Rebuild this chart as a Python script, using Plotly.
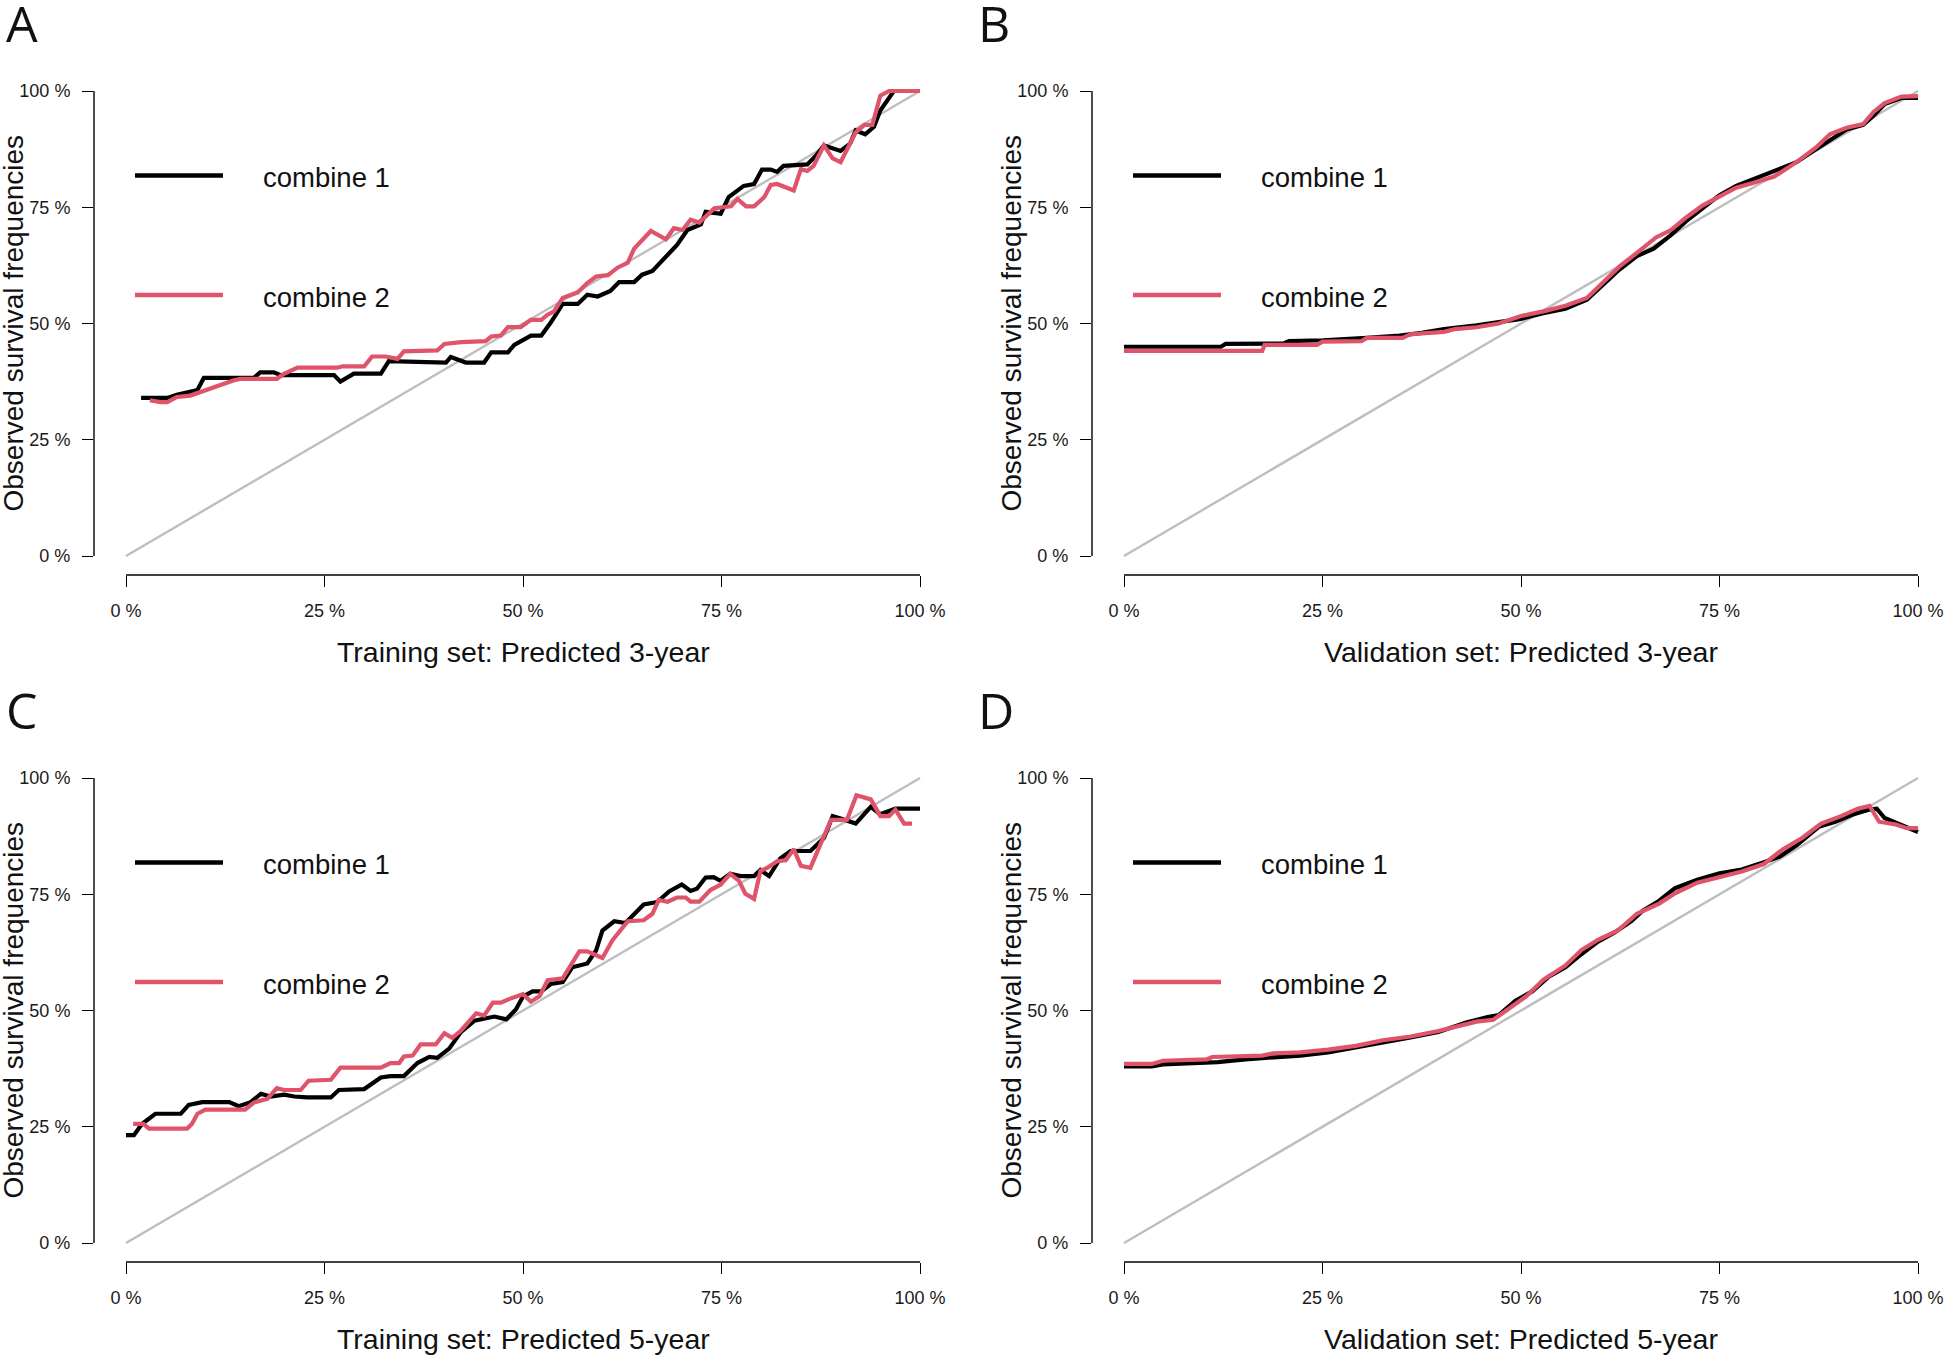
import plotly.graph_objects as go

# ---------------- data ----------------
TICK_VALS = [0, 0.25, 0.5, 0.75, 1.0]
TICK_TEXT = ["0 %", "25 %", "50 %", "75 %", "100 %"]
SERIES_NAMES = ["combine 1", "combine 2"]
PANEL_LETTERS = ["A", "B", "C", "D"]
X_TITLES = ["Training set: Predicted 3-year", "Validation set: Predicted 3-year",
            "Training set: Predicted 5-year", "Validation set: Predicted 5-year"]
Y_TITLE = "Observed survival frequencies"

A_combine1 = [(0.019, 0.340), (0.052, 0.340), (0.064, 0.347), (0.077, 0.353), (0.090, 0.357), (0.098, 0.383),
              (0.161, 0.383), (0.169, 0.395), (0.186, 0.395), (0.195, 0.389), (0.262, 0.389), (0.270, 0.375),
              (0.287, 0.392), (0.321, 0.392), (0.331, 0.419), (0.403, 0.416), (0.409, 0.428), (0.428, 0.416),
              (0.451, 0.416), (0.460, 0.438), (0.481, 0.438), (0.489, 0.454), (0.510, 0.474), (0.523, 0.474),
              (0.535, 0.502), (0.550, 0.542), (0.569, 0.542), (0.581, 0.562), (0.594, 0.558), (0.610, 0.570),
              (0.621, 0.589), (0.640, 0.589), (0.650, 0.605), (0.663, 0.613), (0.677, 0.637), (0.694, 0.669),
              (0.707, 0.701), (0.724, 0.713), (0.730, 0.740), (0.749, 0.736), (0.759, 0.772), (0.778, 0.796),
              (0.791, 0.800), (0.801, 0.831), (0.812, 0.831), (0.820, 0.826), (0.828, 0.839), (0.858, 0.842),
              (0.868, 0.859), (0.879, 0.883), (0.900, 0.871), (0.912, 0.887), (0.919, 0.915), (0.931, 0.907),
              (0.942, 0.923), (0.950, 0.958), (0.967, 1.000), (1.000, 1.000)]
A_combine2 = [(0.030, 0.335), (0.043, 0.331), (0.052, 0.331), (0.064, 0.342), (0.081, 0.345), (0.094, 0.353),
              (0.115, 0.365), (0.136, 0.378), (0.144, 0.381), (0.190, 0.381), (0.199, 0.392), (0.216, 0.405),
              (0.266, 0.405), (0.273, 0.408), (0.300, 0.408), (0.310, 0.429), (0.327, 0.429), (0.342, 0.424),
              (0.350, 0.440), (0.392, 0.442), (0.401, 0.456), (0.422, 0.460), (0.453, 0.462), (0.460, 0.472),
              (0.472, 0.474), (0.481, 0.492), (0.497, 0.492), (0.510, 0.508), (0.523, 0.508), (0.531, 0.519),
              (0.539, 0.526), (0.550, 0.555), (0.569, 0.567), (0.581, 0.587), (0.592, 0.601), (0.607, 0.604),
              (0.619, 0.620), (0.632, 0.631), (0.640, 0.661), (0.661, 0.699), (0.680, 0.681), (0.690, 0.705),
              (0.701, 0.701), (0.711, 0.723), (0.722, 0.717), (0.741, 0.748), (0.762, 0.752), (0.770, 0.768),
              (0.781, 0.752), (0.791, 0.752), (0.804, 0.772), (0.812, 0.798), (0.820, 0.800), (0.841, 0.786),
              (0.850, 0.832), (0.858, 0.828), (0.866, 0.839), (0.879, 0.883), (0.890, 0.855), (0.900, 0.847),
              (0.919, 0.911), (0.930, 0.927), (0.940, 0.927), (0.950, 0.990), (0.961, 1.000), (1.000, 1.000)]

B_combine1 = [(0.000, 0.450), (0.122, 0.450), (0.128, 0.456), (0.201, 0.457), (0.208, 0.462), (0.250, 0.464),
              (0.306, 0.469), (0.347, 0.474), (0.375, 0.480), (0.403, 0.488), (0.444, 0.496), (0.472, 0.502),
              (0.500, 0.510), (0.528, 0.522), (0.556, 0.532), (0.583, 0.551), (0.601, 0.581), (0.622, 0.613),
              (0.646, 0.645), (0.667, 0.661), (0.688, 0.689), (0.708, 0.720), (0.729, 0.748), (0.750, 0.776),
              (0.771, 0.796), (0.792, 0.810), (0.819, 0.828), (0.847, 0.847), (0.868, 0.871), (0.889, 0.895),
              (0.910, 0.917), (0.931, 0.927), (0.944, 0.947), (0.958, 0.972), (0.979, 0.985), (1.000, 0.985)]
B_combine2 = [(0.000, 0.441), (0.174, 0.441), (0.177, 0.454), (0.243, 0.454), (0.250, 0.461), (0.299, 0.462),
              (0.306, 0.469), (0.351, 0.469), (0.361, 0.477), (0.403, 0.482), (0.417, 0.488), (0.444, 0.492),
              (0.472, 0.500), (0.500, 0.516), (0.528, 0.526), (0.556, 0.538), (0.583, 0.555), (0.604, 0.589),
              (0.625, 0.624), (0.646, 0.652), (0.670, 0.685), (0.688, 0.700), (0.708, 0.728), (0.729, 0.754),
              (0.750, 0.773), (0.771, 0.792), (0.792, 0.802), (0.819, 0.816), (0.847, 0.847), (0.872, 0.879),
              (0.889, 0.907), (0.910, 0.921), (0.931, 0.929), (0.944, 0.955), (0.958, 0.974), (0.979, 0.988),
              (1.000, 0.989)]

C_combine1 = [(0.000, 0.232), (0.010, 0.232), (0.020, 0.256), (0.037, 0.278), (0.069, 0.278), (0.079, 0.297),
              (0.096, 0.303), (0.130, 0.303), (0.142, 0.294), (0.157, 0.303), (0.170, 0.321), (0.182, 0.315),
              (0.199, 0.319), (0.212, 0.315), (0.228, 0.313), (0.258, 0.313), (0.268, 0.329), (0.300, 0.331),
              (0.321, 0.356), (0.333, 0.359), (0.350, 0.359), (0.367, 0.387), (0.382, 0.400), (0.392, 0.398),
              (0.407, 0.418), (0.422, 0.454), (0.439, 0.478), (0.464, 0.487), (0.479, 0.481), (0.491, 0.502),
              (0.500, 0.530), (0.512, 0.541), (0.523, 0.541), (0.535, 0.557), (0.550, 0.561), (0.562, 0.593),
              (0.581, 0.601), (0.592, 0.629), (0.600, 0.672), (0.615, 0.692), (0.629, 0.688), (0.644, 0.716),
              (0.652, 0.728), (0.669, 0.733), (0.684, 0.756), (0.700, 0.771), (0.711, 0.757), (0.719, 0.762),
              (0.730, 0.786), (0.740, 0.787), (0.749, 0.779), (0.761, 0.794), (0.774, 0.789), (0.791, 0.789),
              (0.799, 0.802), (0.810, 0.789), (0.824, 0.827), (0.837, 0.843), (0.862, 0.843), (0.879, 0.871),
              (0.890, 0.918), (0.900, 0.913), (0.919, 0.902), (0.938, 0.938), (0.950, 0.922), (0.969, 0.934),
              (1.000, 0.934)]
C_combine2 = [(0.009, 0.256), (0.022, 0.256), (0.029, 0.246), (0.077, 0.246), (0.083, 0.256), (0.090, 0.278),
              (0.100, 0.287), (0.150, 0.287), (0.161, 0.302), (0.178, 0.310), (0.190, 0.333), (0.199, 0.329),
              (0.220, 0.329), (0.230, 0.349), (0.258, 0.351), (0.270, 0.377), (0.321, 0.377), (0.333, 0.387),
              (0.344, 0.387), (0.350, 0.401), (0.361, 0.403), (0.371, 0.427), (0.390, 0.427), (0.401, 0.451),
              (0.411, 0.441), (0.422, 0.457), (0.441, 0.494), (0.451, 0.489), (0.462, 0.517), (0.472, 0.517),
              (0.483, 0.525), (0.500, 0.535), (0.510, 0.519), (0.521, 0.531), (0.531, 0.565), (0.550, 0.569),
              (0.571, 0.627), (0.581, 0.627), (0.600, 0.613), (0.613, 0.652), (0.632, 0.692), (0.652, 0.694),
              (0.663, 0.708), (0.671, 0.738), (0.682, 0.734), (0.694, 0.743), (0.705, 0.743), (0.711, 0.734),
              (0.722, 0.734), (0.736, 0.759), (0.749, 0.771), (0.761, 0.794), (0.772, 0.779), (0.780, 0.751),
              (0.791, 0.740), (0.799, 0.800), (0.808, 0.807), (0.820, 0.821), (0.831, 0.823), (0.841, 0.847),
              (0.850, 0.811), (0.862, 0.807), (0.877, 0.867), (0.888, 0.910), (0.908, 0.910), (0.920, 0.963),
              (0.938, 0.954), (0.950, 0.918), (0.961, 0.918), (0.969, 0.932), (0.980, 0.902), (0.990, 0.902)]

D_combine1 = [(0.000, 0.380), (0.035, 0.380), (0.049, 0.384), (0.118, 0.389), (0.153, 0.395), (0.222, 0.403),
              (0.257, 0.410), (0.292, 0.420), (0.326, 0.432), (0.361, 0.442), (0.396, 0.454), (0.431, 0.474),
              (0.458, 0.486), (0.472, 0.490), (0.493, 0.521), (0.514, 0.541), (0.535, 0.573), (0.556, 0.593),
              (0.576, 0.621), (0.597, 0.648), (0.618, 0.668), (0.639, 0.692), (0.653, 0.714), (0.674, 0.736),
              (0.694, 0.763), (0.722, 0.781), (0.750, 0.795), (0.778, 0.803), (0.806, 0.819), (0.826, 0.831),
              (0.847, 0.855), (0.875, 0.895), (0.896, 0.906), (0.917, 0.921), (0.938, 0.932), (0.948, 0.934),
              (0.958, 0.914), (0.979, 0.898), (1.000, 0.884)]
D_combine2 = [(0.000, 0.385), (0.035, 0.385), (0.049, 0.392), (0.104, 0.395), (0.111, 0.400), (0.174, 0.403),
              (0.188, 0.408), (0.222, 0.410), (0.257, 0.416), (0.292, 0.424), (0.326, 0.436), (0.361, 0.444),
              (0.396, 0.456), (0.424, 0.468), (0.444, 0.476), (0.465, 0.480), (0.486, 0.505), (0.507, 0.531),
              (0.528, 0.566), (0.556, 0.597), (0.576, 0.630), (0.597, 0.652), (0.622, 0.672), (0.646, 0.708),
              (0.674, 0.730), (0.694, 0.752), (0.722, 0.775), (0.750, 0.787), (0.778, 0.799), (0.806, 0.815),
              (0.830, 0.847), (0.854, 0.871), (0.878, 0.902), (0.903, 0.918), (0.924, 0.934), (0.939, 0.940),
              (0.951, 0.906), (0.972, 0.900), (0.986, 0.892), (1.000, 0.892)]

SERIES = [(A_combine1, A_combine2), (B_combine1, B_combine2),
          (C_combine1, C_combine2), (D_combine1, D_combine2)]

# ---------------- layout / style ----------------
W, H = 1944, 1358
COLORS = ["#000000", "#DF536B"]
DIAG_COLOR = "#BEBEBE"
FONT = "Liberation Sans, Arial, sans-serif"
LETTER_FONT = "Open Sans, Noto Sans, sans-serif"
CURVE_W = 4.2

COL = [dict(origin=0, x0=126, x1=920, left=94, right=952),
       dict(origin=972, x0=1124, x1=1918, left=1092, right=1944)]
ROW = [dict(y0=556, y1=91, top=72, bottom=575),
       dict(y0=1243, y1=778, top=759, bottom=1262)]

fig = go.Figure()
shapes, annotations = [], []

for i in range(4):
    c, r = COL[i % 2], ROW[i // 2]
    sfx = "" if i == 0 else str(i + 1)
    xa, ya = "x" + sfx, "y" + sfx

    xr = [(c["left"] - c["x0"]) / (c["x1"] - c["x0"]), (c["right"] - c["x0"]) / (c["x1"] - c["x0"])]
    yr = [(r["bottom"] - r["y0"]) / (r["y1"] - r["y0"]), (r["top"] - r["y0"]) / (r["y1"] - r["y0"])]

    axis_common = dict(showgrid=False, zeroline=False, showline=False, ticks="outside",
                       ticklen=11, tickwidth=1.4, tickcolor="#000",
                       tickvals=TICK_VALS, ticktext=TICK_TEXT,
                       tickfont=dict(family=FONT, size=18, color="#1a1a1a"))
    fig.layout["xaxis" + sfx] = dict(axis_common, domain=[c["left"] / W, c["right"] / W],
                                     range=xr, anchor=ya, ticklabelstandoff=8)
    fig.layout["yaxis" + sfx] = dict(axis_common, domain=[1 - r["bottom"] / H, 1 - r["top"] / H],
                                     range=yr, anchor=xa, ticklabelstandoff=8)

    # reference diagonal
    fig.add_trace(go.Scatter(x=[0, 1], y=[0, 1], mode="lines", xaxis=xa, yaxis=ya,
                             line=dict(color=DIAG_COLOR, width=2.4), showlegend=False, hoverinfo="skip"))
    for k, pts in enumerate(SERIES[i]):
        fig.add_trace(go.Scatter(x=[p[0] for p in pts], y=[p[1] for p in pts], mode="lines",
                                 xaxis=xa, yaxis=ya, name=SERIES_NAMES[k], showlegend=False,
                                 line=dict(color=COLORS[k], width=CURVE_W)))

    # R style detached axis lines (from first to last tick)
    shapes.append(dict(type="line", xref="paper", yref="paper",
                       x0=c["x0"] / W, x1=c["x1"] / W,
                       y0=1 - r["bottom"] / H, y1=1 - r["bottom"] / H,
                       line=dict(color="#000", width=1.4)))
    shapes.append(dict(type="line", xref="paper", yref="paper",
                       x0=c["left"] / W, x1=c["left"] / W,
                       y0=1 - r["y0"] / H, y1=1 - r["y1"] / H,
                       line=dict(color="#000", width=1.4)))

    # legend (R legend without box)
    for k in range(2):
        ly = r["top"] + 103.5 + k * 119.5
        shapes.append(dict(type="line", xref="paper", yref="paper",
                           x0=(c["left"] + 41) / W, x1=(c["left"] + 129) / W,
                           y0=1 - ly / H, y1=1 - ly / H,
                           line=dict(color=COLORS[k], width=4.6)))
        annotations.append(dict(text=SERIES_NAMES[k], xref="paper", yref="paper",
                                x=(c["left"] + 167) / W, y=1 - (ly + 2) / H,
                                xanchor="left", yanchor="middle", showarrow=False,
                                font=dict(family=FONT, size=27.5, color="#111")))

    # axis titles
    annotations.append(dict(text=X_TITLES[i], xref="paper", yref="paper",
                            x=(c["x0"] + c["x1"]) / 2 / W, y=1 - (r["bottom"] + 77) / H,
                            xanchor="center", yanchor="middle", showarrow=False,
                            font=dict(family=FONT, size=28.5, color="#111")))
    annotations.append(dict(text=Y_TITLE, xref="paper", yref="paper", textangle=-90,
                            x=(c["left"] - 81) / W, y=1 - (r["y0"] + r["y1"]) / 2 / H,
                            xanchor="center", yanchor="middle", showarrow=False,
                            font=dict(family=FONT, size=28, color="#111")))
    # panel letter
    annotations.append(dict(text=PANEL_LETTERS[i], xref="paper", yref="paper",
                            x=(c["origin"] + 4) / W, y=1 - (r["top"] - 49) / H,
                            xanchor="left", yanchor="middle", showarrow=False,
                            font=dict(family=LETTER_FONT, size=50, color="#111")))

fig.update_layout(width=W, height=H, margin=dict(l=0, r=0, t=0, b=0),
                  paper_bgcolor="white", plot_bgcolor="white",
                  shapes=shapes, annotations=annotations, showlegend=False)

fig.write_html("out.html", config={"displayModeBar": False},
               post_script="document.body.style.margin='0px';"
                           "document.documentElement.style.overflow='hidden';")
